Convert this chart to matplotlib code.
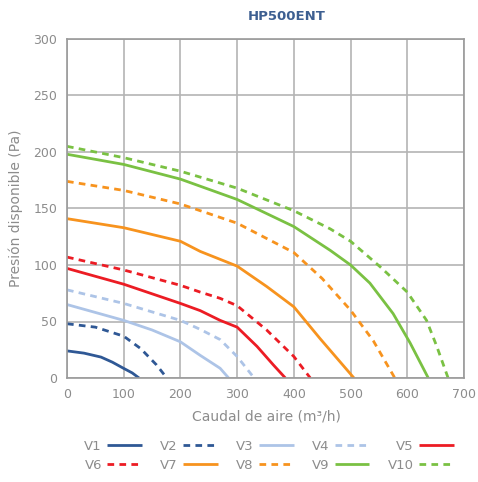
import numpy as np
import matplotlib
matplotlib.use("Agg")
import matplotlib.pyplot as plt

plt.rcParams['font.family'] = ['DejaVu Sans']

# curve data (caudal m3/h, presion Pa)
v1_x = [0, 30, 60, 80, 100, 115, 127]
v1_y = [24, 22, 18.5, 14, 8.5, 4.5, 0]
v2_x = [0, 50, 100, 130, 158, 176]
v2_y = [48, 45, 37, 26, 11.5, 0]
v3_x = [0, 100, 150, 200, 235, 270, 285]
v3_y = [65, 51, 42.5, 32, 20, 8.6, 0]
v4_x = [0, 100, 200, 235, 270, 300, 330]
v4_y = [78, 66, 51, 43, 34, 19, 0]
v5_x = [0, 100, 200, 235, 270, 300, 335, 364, 385]
v5_y = [97, 83, 66, 59.6, 51, 45, 28, 11.5, 0]
v6_x = [0, 100, 200, 235, 270, 300, 352, 400, 429]
v6_y = [107, 95.6, 82, 76, 70.5, 64, 42.5, 19, 0]
v7_x = [0, 100, 200, 235, 300, 352, 400, 446, 506]
v7_y = [141, 133, 121, 112, 99, 81, 63, 35, 0]
v8_x = [0, 100, 200, 300, 400, 450, 500, 540, 578]
v8_y = [174, 166, 154, 137, 111, 88, 60, 33, 0]
v9_x = [0, 100, 200, 300, 400, 464, 500, 534, 575, 605, 637]
v9_y = [198, 189, 176, 158, 134, 113, 100, 84, 57, 31, 0]
v10_x = [0, 100, 200, 300, 400, 464, 500, 552, 600, 634, 652, 672]
v10_y = [205, 195, 183, 168, 148, 132, 121, 98.5, 76, 51, 28, 0]

names = ['V1', 'V2', 'V3', 'V4', 'V5', 'V6', 'V7', 'V8', 'V9', 'V10']
xs = [v1_x, v2_x, v3_x, v4_x, v5_x, v6_x, v7_x, v8_x, v9_x, v10_x]
ys = [v1_y, v2_y, v3_y, v4_y, v5_y, v6_y, v7_y, v8_y, v9_y, v10_y]

colors = ['#2f5895', '#2f5895', '#adc4e7', '#adc4e7', '#ec1c24',
          '#ec1c24', '#f7931e', '#f7931e', '#7ac143', '#7ac143']
grey = '#8c8c8c'

fig = plt.figure(figsize=(4.78, 4.82), dpi=100)
ax = fig.add_axes([67/478, 104/482, 397/478, 339/482])

lines = []
for i in range(10):
    ls = '-' if i % 2 == 0 else (0, (2.4, 1.9))
    ln, = ax.plot(xs[i], ys[i], color=colors[i], lw=2.0, ls=ls,
                  solid_capstyle='butt', dash_capstyle='butt',
                  solid_joinstyle='round', label=names[i])
    lines.append(ln)

ax.set_xlim(0, 700)
ax.set_ylim(0, 300)
ax.set_xticks(np.arange(0, 701, 100))
ax.set_yticks(np.arange(0, 301, 50))
ax.grid(True, color='#b4b4b4', lw=1.2)
ax.set_axisbelow(True)
for s in ax.spines.values():
    s.set_color('#9a9a9a')
    s.set_linewidth(1.2)
ax.tick_params(length=0, pad=7, labelsize=9, labelcolor=grey)

fig.text(287/478, 1 - 17/482, 'HP500ENT', ha='center', va='center',
         fontsize=9.5, fontweight='bold', color='#3d5f91')
fig.text(16/478, 1 - 208/482, 'Presión disponible (Pa)', rotation=90,
         ha='center', va='center', fontsize=10, color=grey)
fig.text(266/478, 1 - 416/482, 'Caudal de aire (m³/h)', ha='center',
         va='center', fontsize=10, color=grey)

# legend rows: V1..V5 / V6..V10 (legend fills column-wise)
order = [0, 5, 1, 6, 2, 7, 3, 8, 4, 9]
fig.legend([lines[k] for k in order], [names[k] for k in order],
           ncol=5, loc='center', bbox_to_anchor=(269/478, 1 - 456/482),
           frameon=False, markerfirst=False, fontsize=9.5,
           labelcolor=grey, handlelength=2.65, handletextpad=0.4,
           columnspacing=1.36, labelspacing=0.45)

fig.savefig('out.png', dpi=100)
